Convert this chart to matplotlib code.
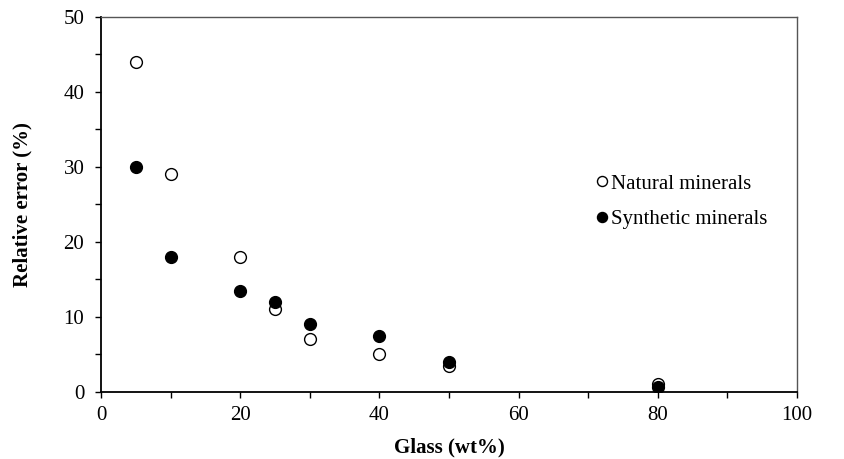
import matplotlib

matplotlib.use("Agg")

import matplotlib.pyplot as plt
from matplotlib.ticker import MultipleLocator

plt.rcParams["font.family"] = ["Liberation Serif", "DejaVu Serif"]

glass = [5, 10, 20, 25, 30, 40, 50, 80]
natural = [44, 29, 18, 11, 7, 5, 3.5, 1.0]
synthetic = [30, 18, 13.5, 12, 9, 7.5, 4, 0.7]

fig = plt.figure(figsize=(8.44, 4.59), dpi=100)
ax = fig.add_axes([0.1197, 0.146, 0.8246, 0.817])

ax.plot(glass, natural, "o", ms=8.5, mfc="white", mec="black", mew=1.0,
        label="Natural minerals", zorder=3)
ax.plot(glass, synthetic, "o", ms=8.5, mfc="black", mec="black", mew=1.0,
        label="Synthetic minerals", zorder=4)

ax.set_xlim(0, 100)
ax.set_ylim(0, 50)
ax.xaxis.set_major_locator(MultipleLocator(20))
ax.xaxis.set_minor_locator(MultipleLocator(10))
ax.yaxis.set_major_locator(MultipleLocator(10))
ax.yaxis.set_minor_locator(MultipleLocator(5))
ax.tick_params(which="both", direction="out", length=4, width=1.0, labelsize=15)
ax.tick_params(axis="y", which="both", pad=8)
ax.tick_params(axis="x", which="both", pad=6)
ax.tick_params(which="both", top=False, right=False)

for side in ("left", "bottom"):
    ax.spines[side].set_linewidth(1.3)
for side in ("top", "right"):
    ax.spines[side].set_linewidth(1.0)
    ax.spines[side].set_color("#555555")

ax.set_xlabel("Glass (wt%)", fontsize=15, fontweight="bold", labelpad=9)
ax.set_ylabel("Relative error (%)", fontsize=15, fontweight="bold", labelpad=22)

ax.legend(loc="center left", bbox_to_anchor=(0.675, 0.508), frameon=False,
          fontsize=15, handletextpad=-0.15, handlelength=1.2, markerscale=0.85,
          labelspacing=0.75)

fig.savefig("out.png", dpi=100)
